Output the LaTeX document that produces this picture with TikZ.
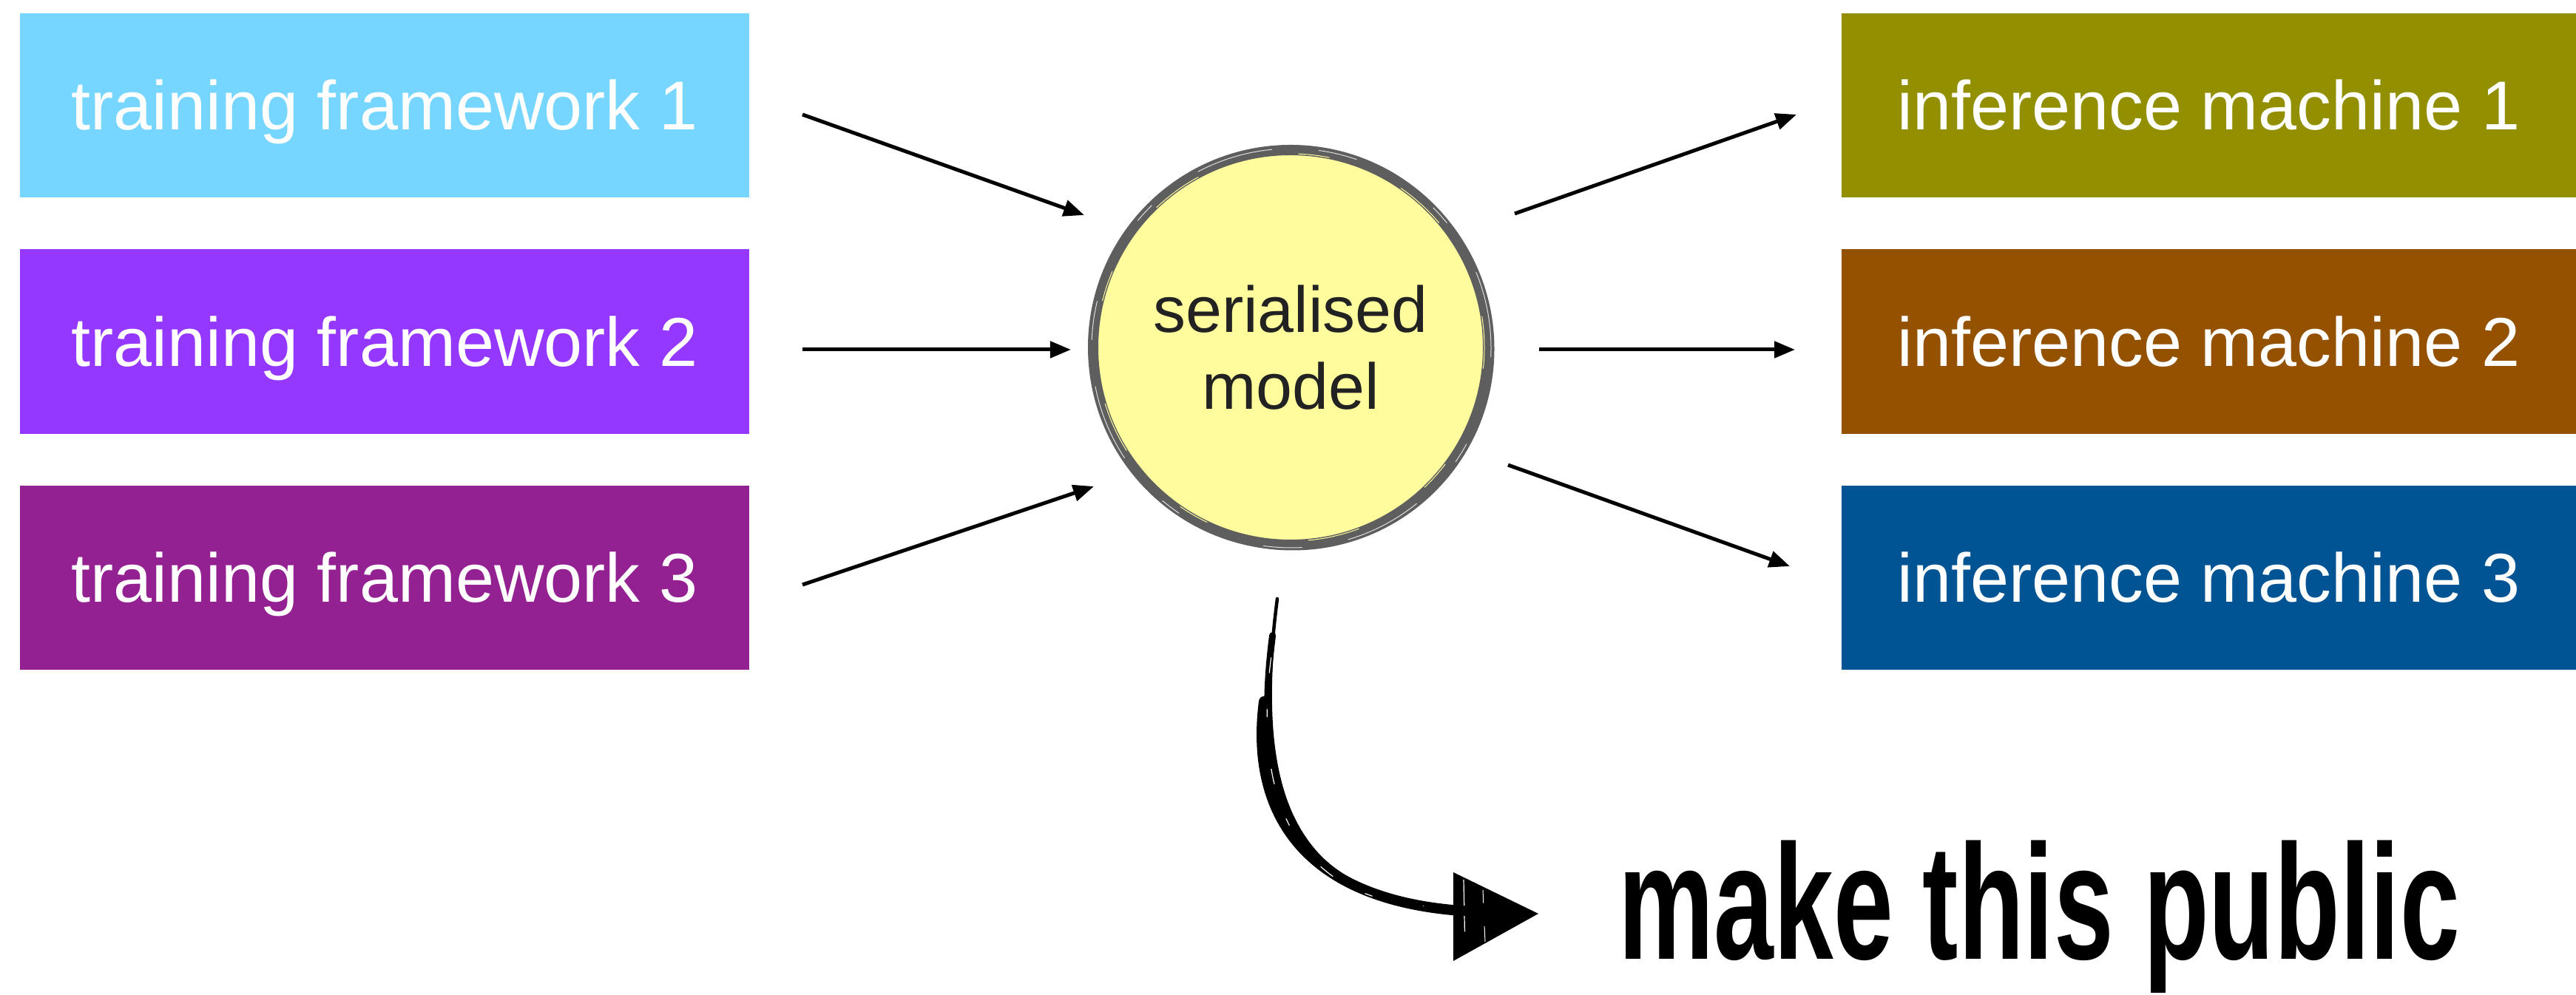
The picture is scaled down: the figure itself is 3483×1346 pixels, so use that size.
\documentclass[tikz,border=0pt]{standalone}
\usepackage{fontspec}
\setmainfont{Liberation Sans}
\usepackage{graphicx}
\usetikzlibrary{arrows.meta,calc}

\definecolor{tfA}{HTML}{76D6FF}
\definecolor{tfB}{HTML}{9437FF}
\definecolor{tfC}{HTML}{942192}
\definecolor{imA}{HTML}{929000}
\definecolor{imB}{HTML}{945200}
\definecolor{imC}{HTML}{005493}
\definecolor{modelfill}{HTML}{FFFC9E}
\definecolor{brushgray}{HTML}{5E5E5E}
\definecolor{modeltext}{HTML}{222222}

\begin{document}
\begin{tikzpicture}[x=0.01cm, y=0.01cm,
  box/.style={rectangle, minimum height=2.49cm, inner sep=0pt, text=white,
    font=\fontsize{26.6}{30}\selectfont, text height=19pt, text depth=0pt},
  leftbox/.style={box, minimum width=9.86cm},
  rightbox/.style={box, minimum width=9.93cm},
  conn/.style={line width=0.05cm, -{Triangle[length=0.28cm, width=0.22cm]}},
  brushstroke/.style={line cap=round, line join=round, black},
]
\fill[white] (0,0) rectangle (3483,1346);
\useasboundingbox (0,0) rectangle (3483,1346);

% training frameworks
\node[leftbox, fill=tfA] (tf1) at (520,1203.5) {training framework 1};
\node[leftbox, fill=tfB] (tf2) at (520,884) {training framework 2};
\node[leftbox, fill=tfC] (tf3) at (520,564.5) {training framework 3};

% inference machines
\node[rightbox, fill=imA] (im1) at (2986.5,1203.5) {inference machine 1};
\node[rightbox, fill=imB] (im2) at (2986.5,884) {inference machine 2};
\node[rightbox, fill=imC] (im3) at (2986.5,564.5) {inference machine 3};

% serialised model
\node[circle, minimum size=5.34cm, inner sep=0pt, fill=modelfill, text=modeltext,
  align=center, font=\fontsize{25}{29.4}\selectfont] (sm) at (1745,876) {serialised\\model};

% brushed outline of the model
\draw[brushgray, line width=0.14cm] (sm.center) circle [radius=267];
\draw[brushgray, line width=0.03cm] ($(sm.center)+(3,-2)$) circle [radius=271];
\draw[brushgray, line width=0.07cm] ($(sm.center)+(-70:270)$) arc (-70:45:270);
\draw[brushgray, line width=0.05cm] ($(sm.center)+(120:269)$) arc (120:200:269);
\draw[white, line width=0.01cm, opacity=0.8, dash pattern=on 30pt off 22pt on 8pt off 35pt on 15pt off 18pt]
  ($(sm.center)+(1,-1)$) circle [radius=270];
\draw[modelfill, line width=0.01cm, dash pattern=on 12pt off 40pt on 20pt off 30pt]
  (sm.center) circle [radius=262];

% inputs
\draw[conn] ($(tf1.east)+(71,-12.5)$) -- ($(sm.center)+(-279,179)$);
\draw[conn] ($(tf2.east)+(71,-11)$) -- ($(sm.center)+(-297,-3)$);
\draw[conn] ($(tf3.east)+(71,-9.5)$) -- ($(sm.center)+(-266,-188)$);

% outputs
\draw[conn] ($(sm.center)+(303,181)$) -- ($(im1.west)+(-60,-12.5)$);
\draw[conn] ($(sm.center)+(336,-3)$) -- ($(im2.west)+(-62,-11)$);
\draw[conn] ($(sm.center)+(294,-159)$) -- ($(im3.west)+(-69,15.5)$);

% call to action
\node[anchor=base west, inner sep=0pt, font=\fontsize{63}{63}\bfseries\selectfont] (pub)
  at (2188,48) {\scalebox{0.655}[1]{make this public}};

% hand-drawn curved arrow
\coordinate (bs) at ($(sm.center)+(-18,-340)$);
\coordinate (be) at ($(pub.base west)+(-213,66)$);
\coordinate (bc1) at ($(bs)+(-37,-286)$);
\coordinate (bc2) at ($(be)+(-215,16)$);
\foreach \w/\s in {0.045cm/0cm, 0.09cm/0.5cm, 0.14cm/1.4cm}
  \draw[brushstroke, line width=\w, shorten <=\s] (bs) .. controls (bc1) and (bc2) .. (be);
\draw[white, line width=0.012cm, dash pattern=on 6pt off 14pt on 3pt off 20pt, shorten <=0.8cm, shorten >=0.5cm]
  ($(bs)+(2,0)$) .. controls ($(bc1)+(2,2)$) and ($(bc2)+(2,2)$) .. ($(be)+(0,3)$);
\fill[brushstroke] ($(be)+(-10,52)$) -- ($(be)+(105,-4)$) -- ($(be)+(-10,-68)$) -- cycle;
\draw[white, line width=0.012cm, dash pattern=on 10pt off 4pt on 6pt off 8pt]
  ($(be)+(4,42)$) -- ($(be)+(6,-56)$);
\draw[white, line width=0.01cm, dash pattern=on 5pt off 9pt on 8pt off 6pt]
  ($(be)+(30,28)$) -- ($(be)+(33,-42)$);
\end{tikzpicture}
\end{document}
